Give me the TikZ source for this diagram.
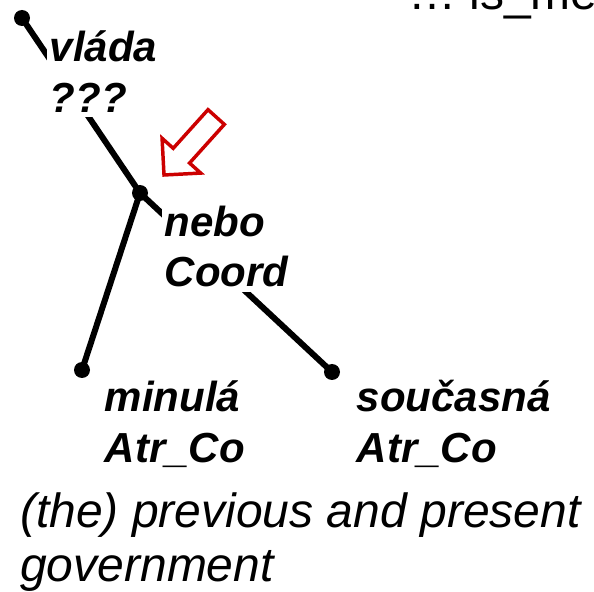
\documentclass[tikz,border=0pt]{standalone}
\usepackage{fontspec}
\setmainfont{Liberation Sans}
\usetikzlibrary{positioning}
\definecolor{hintred}{HTML}{CC0000}

\begin{document}
\begin{tikzpicture}[x=0.75pt, y=-0.75pt,
  dot/.style={circle, fill=black, inner sep=0pt, minimum size=12pt},
  edge/.style={line width=4.5pt, black},
  lbl/.style={anchor=north west, fill=white, inner xsep=2pt, inner ysep=4pt, align=left,
    font=\fontsize{31.5}{38}\selectfont\bfseries\itshape},
  gloss/.style={anchor=north west, inner sep=0pt, align=left,
    font=\fontsize{36}{41}\selectfont\itshape},
  hint/.style={draw=hintred, line width=2.6pt, fill=white}]

\clip (0,0) rectangle (594,592);
\fill[white] (0,0) rectangle (594,592);

\node[anchor=base west, inner sep=0pt, font=\fontsize{36}{40}\selectfont] at (408,10) (attr) {… is\_member};

\node[dot] at (22,18) (vlada) {};
\node[dot] at (140,193) (nebo) {};
\node[dot] at (82,370) (minula) {};
\node[dot] at (332,372) (soucasna) {};

\draw[edge] (vlada.center) -- (nebo.center);
\draw[edge] (nebo.center) -- (minula.center);
\draw[edge] (nebo.center) -- (soucasna.center);

\node[lbl] at (47,25) (vladalbl) {vláda\\???};
\node[lbl] at (162,200) (nebolbl) {nebo\\Coord};
\node[lbl] at (102,375) (minulalbl) {minulá\\Atr\_Co};
\node[lbl] at (354,375) (soucasnalbl) {současná\\Atr\_Co};

\begin{scope}[shift={(164,175)}, rotate=48]
  \draw[hint] (0,0) -- (26,26) -- (26,11) -- (78,11) -- (78,-11) -- (26,-11) -- (26,-26) -- cycle;
\end{scope}

\node[gloss] at (20,492) (glosstext) {(the) previous and present\\government};
\end{tikzpicture}
\end{document}
